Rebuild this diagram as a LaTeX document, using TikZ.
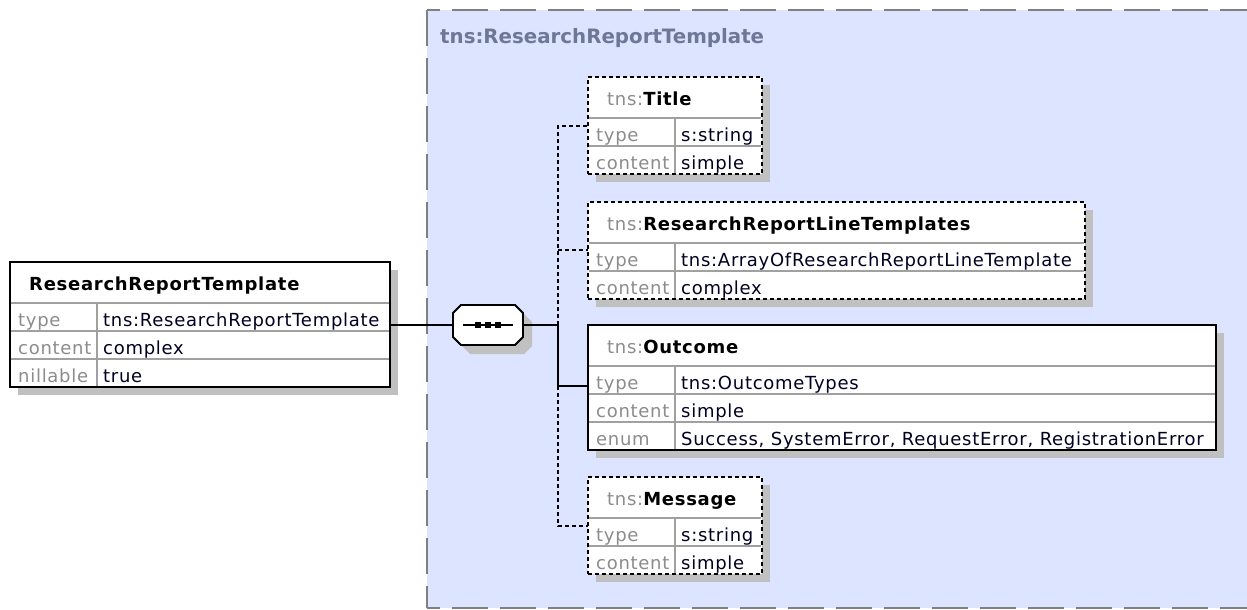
\documentclass[tikz,border=0pt]{standalone}
\usepackage{fontspec}
\setmainfont[LetterSpace=4]{DejaVu Sans}
\newfontfamily\grpfont{DejaVu Sans}
\usetikzlibrary{shadows}
\definecolor{grpfill}{HTML}{DDE4FF}
\definecolor{grpborder}{HTML}{808080}
\definecolor{shadowc}{HTML}{C0C0C0}
\definecolor{lblc}{HTML}{8C8C8C}
\definecolor{valc}{HTML}{000022}
\definecolor{grptitle}{HTML}{6E7896}
\definecolor{rowline}{HTML}{A0A0A0}
\newcommand\boxfont{\fontsize{18}{21}\selectfont}
\tikzset{
  boxsolid/.style={draw=black, line width=1.8pt, fill=white, anchor=north west,
    inner sep=0pt, outer sep=0pt,
    drop shadow={shadow xshift=8pt, shadow yshift=-8pt, fill=shadowc, opacity=1}},
  boxdashed/.style={boxsolid, dash pattern=on 4pt off 3pt},
  rowl/.style={draw=rowline, line width=1.5pt},
  conn/.style={draw=black, line width=2pt},
  dconn/.style={conn, dash pattern=on 4pt off 3pt},
  hdr/.style={anchor=base west, inner sep=0pt, font=\boxfont, text=black},
  lbl/.style={anchor=base west, inner sep=0pt, font=\boxfont, text=lblc},
  val/.style={anchor=base west, inner sep=0pt, font=\boxfont, text=valc},
  grpb/.style={draw=grpborder, line width=2pt, dash pattern=on 36pt off 12pt},
}
% #1 name, #2 style, #3 x, #4 y, #5 width, #6 rows
\newcommand\mkbox[6]{%
  \node[#2, minimum width=#5pt, minimum height=41pt+#6*28pt] (#1) at (#3,#4) {};
  \draw[rowl] (#3+1,#4+41) -- (#3+#5-1,#4+41);
  \foreach \r in {2,...,#6} {\draw[rowl] (#3+1,#4+13+28*\r) -- (#3+#5-1,#4+13+28*\r);}
  \draw[rowl] (#3+87,#4+42) -- (#3+87,#4+40+#6*28);
}
\begin{document}
\begin{tikzpicture}[x=1pt,y=-1pt]
\useasboundingbox (0,0) rectangle (1247,610);
\clip (0,0) rectangle (1247,610);
\fill[white] (0,0) rectangle (1247,610);
% group area
\fill[grpfill] (427,10) rectangle (1260,608);
\draw[grpb, dash phase=23pt] (427,10) -- (1260,10);
\draw[grpb, dash phase=23pt] (427,608) -- (1260,608);
\draw[grpb] (427,10) -- (427,608);
\node[anchor=base west, inner sep=0pt, font={\grpfont\bfseries\fontsize{19.8}{22}\selectfont}, text=grptitle] (gtitle) at (440,44) {tns:ResearchReportTemplate};

% main element
\mkbox{main}{boxsolid}{10}{262}{380}{3}
\node[hdr] (mainh) at (29,290) {\textbf{ResearchReportTemplate}};
\node[lbl] (mainl1) at (18,326) {type};
\node[val] (mainv1) at (103,326) {tns:ResearchReportTemplate};
\node[lbl] (mainl2) at (18,354) {content};
\node[val] (mainv2) at (103,354) {complex};
\node[lbl] (mainl3) at (18,382) {nillable};
\node[val] (mainv3) at (103,382) {true};

% Title
\mkbox{title}{boxdashed}{588}{77}{174}{2}
\node[hdr] (titleh) at (607,105) {\textcolor{lblc}{tns:}\textbf{Title}};
\node[lbl] (titlel1) at (596,141) {type};
\node[val] (titlev1) at (681,141) {s:string};
\node[lbl] (titlel2) at (596,169) {content};
\node[val] (titlev2) at (681,169) {simple};

% ResearchReportLineTemplates
\mkbox{rrlt}{boxdashed}{588}{202}{497}{2}
\node[hdr] (rrlth) at (607,230) {\textcolor{lblc}{tns:}\textbf{ResearchReportLineTemplates}};
\node[lbl] (rrltl1) at (596,266) {type};
\node[val] (rrltv1) at (681,266) {tns:ArrayOfResearchReportLineTemplate};
\node[lbl] (rrltl2) at (596,294) {content};
\node[val] (rrltv2) at (681,294) {complex};

% Outcome
\mkbox{outc}{boxsolid}{588}{325}{628}{3}
\node[hdr] (outch) at (607,353) {\textcolor{lblc}{tns:}\textbf{Outcome}};
\node[lbl] (outcl1) at (596,389) {type};
\node[val] (outcv1) at (681,389) {tns:OutcomeTypes};
\node[lbl] (outcl2) at (596,417) {content};
\node[val] (outcv2) at (681,417) {simple};
\node[lbl] (outcl3) at (596,445) {enum};
\node[val] (outcv3) at (681,445) {Success, SystemError, RequestError, RegistrationError};

% Message
\mkbox{msg}{boxdashed}{588}{477}{174}{2}
\node[hdr] (msgh) at (607,505) {\textcolor{lblc}{tns:}\textbf{Message}};
\node[lbl] (msgl1) at (596,541) {type};
\node[val] (msgv1) at (681,541) {s:string};
\node[lbl] (msgl2) at (596,569) {content};
\node[val] (msgv2) at (681,569) {simple};

% sequence compositor
\fill[shadowc] (462,322) -- (470,314) -- (524,314) -- (532,322) -- (532,346) -- (524,354) -- (470,354) -- (462,346) -- cycle;
\filldraw[fill=white, draw=black, line width=1.8pt] (453,313) -- (461,305) -- (515,305) -- (523,313) -- (523,337) -- (515,345) -- (461,345) -- (453,337) -- cycle;
\node[inner sep=0pt, outer sep=0pt, minimum width=70pt, minimum height=40pt] (seq) at (488,325) {};
\draw[line width=2pt] (463,325) -- (513,325);
\fill (475,322) rectangle (481,328);
\fill (485,322) rectangle (491,328);
\fill (495,322) rectangle (501,328);

% attach points
\coordinate (sp) at (558,325);
\coordinate (tIn) at ([yshift=-49pt]title.north west);
\coordinate (rIn) at ([yshift=-48pt]rrlt.north west);
\coordinate (oIn) at ([yshift=-61pt]outc.north west);
\coordinate (mIn) at ([yshift=-49pt]msg.north west);

% connectors
\draw[conn] (main.east) -- (main.east -| seq.west);
\draw[conn] (seq.east) -- (sp);
\draw[conn] (sp) -- (sp |- oIn) -- (oIn);
\draw[dconn] (sp) -- (sp |- rIn) -- (sp |- tIn) -- (tIn);
\draw[dconn] (sp |- rIn) -- (rIn);
\draw[dconn] (sp |- oIn) -- (sp |- mIn) -- (mIn);
\end{tikzpicture}
\end{document}
